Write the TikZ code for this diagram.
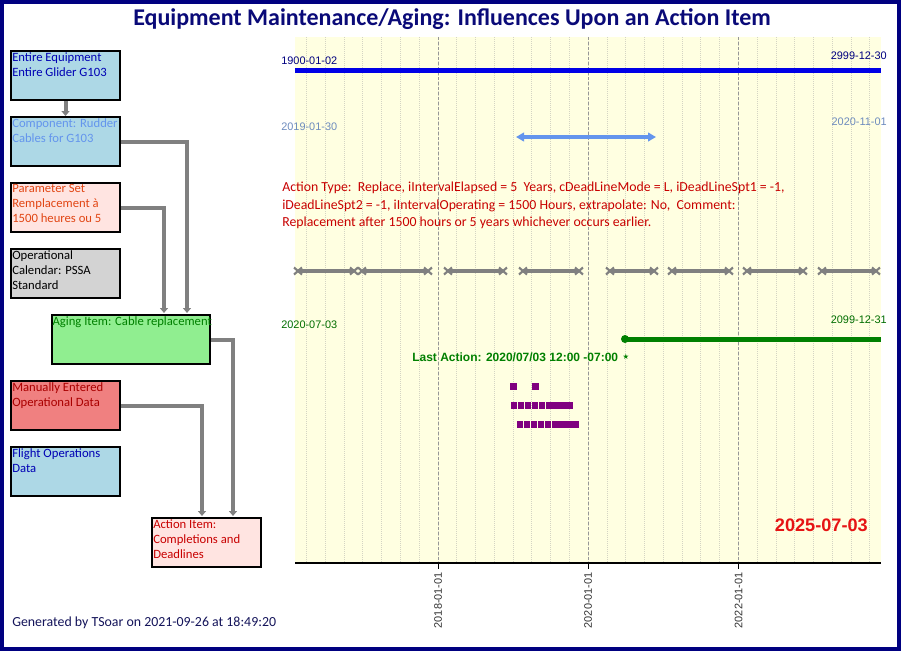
\documentclass[tikz,border=0pt]{standalone}
\usepackage{fontspec}
\setmainfont{Carlito}
\newfontfamily\arialf{Liberation Sans}
\newfontfamily\symf{DejaVu Sans}
\usetikzlibrary{arrows.meta}
\definecolor{navyc}{RGB}{0,0,128}
\definecolor{titlec}{RGB}{10,10,120}
\definecolor{plotbg}{RGB}{255,255,225}
\definecolor{minorc}{RGB}{212,212,195}
\definecolor{majorc}{RGB}{150,150,150}
\definecolor{conngray}{RGB}{128,128,128}
\definecolor{lblue}{RGB}{173,216,230}
\definecolor{mrose}{RGB}{255,228,225}
\definecolor{lgray}{RGB}{211,211,211}
\definecolor{lgreen}{RGB}{144,238,144}
\definecolor{lcoral}{RGB}{240,128,128}
\definecolor{tblue}{RGB}{0,0,180}
\definecolor{tcorn}{RGB}{100,149,237}
\definecolor{torange}{RGB}{225,70,20}
\definecolor{tgreen}{RGB}{0,128,0}
\definecolor{tdred}{RGB}{170,0,0}
\definecolor{tred}{RGB}{200,0,0}
\definecolor{bigred}{RGB}{230,20,20}
\definecolor{lineblue}{RGB}{0,0,230}
\definecolor{steelc}{RGB}{110,140,190}
\definecolor{dgreen}{RGB}{0,110,0}
\definecolor{purplec}{RGB}{128,0,128}
\definecolor{genc}{RGB}{20,20,90}
\begin{document}
\begin{tikzpicture}[x=0.75pt,y=-0.75pt,
  box/.style={draw=black,line width=1.5pt,minimum width=81.75pt,minimum height=36.75pt,inner sep=0pt,anchor=north west},
  boxtxt/.style={anchor=north west,inner sep=0pt,align=left,font=\fontsize{9.5}{11.25}\selectfont},
  conn/.style={draw=conngray,line width=3pt,-{Triangle[length=3.75pt,width=6pt]}},
  datelbl/.style={inner sep=0pt,font=\arialf\fontsize{8.2}{9}\selectfont},
  seg/.style={draw=conngray,line width=3pt},
  xm/.style={draw=conngray,line width=1.6pt},
  minor/.style={draw=minorc,line width=0.75pt,dash pattern=on 0.75pt off 0.75pt},
  major/.style={draw=majorc,line width=0.75pt,dash pattern=on 2.25pt off 1.5pt},
  ticklbl/.style={inner sep=0pt,rotate=90,anchor=east,text=black!80,font=\arialf\fontsize{8.2}{9}\selectfont}
]
\useasboundingbox (0,0) rectangle (901,651);
\fill[white] (0,0) rectangle (901,651);
% plot background and grid
\fill[plotbg] (295,37) rectangle (881,563);
\foreach \k in {-7,...,23} {\draw[minor] ({438+\k*18.78},37) -- ({438+\k*18.78},563);}
\foreach \k in {0,8,16} {\draw[major] ({438+\k*18.78},37) -- ({438+\k*18.78},563);}
% title
\node[font=\bfseries\fontsize{18}{21}\selectfont,text=titlec,inner sep=0pt] (title) at (452,19) {Equipment Maintenance/Aging: Influences Upon an Action Item};
% boxes
\node[box,fill=lblue] (b1) at (10,50) {};
\node[boxtxt,text=tblue] at ([xshift=1.5pt,yshift=-1.8pt]b1.north west) {Entire Equipment\\Entire Glider G103};
\node[box,fill=lblue] (b2) at (10,116) {};
\node[boxtxt,text=tcorn] at ([xshift=1.5pt,yshift=-1.8pt]b2.north west) {Component: Rudder\\Cables for G103};
\node[box,fill=mrose] (b3) at (10,182) {};
\node[boxtxt,text=torange] at ([xshift=1.5pt,yshift=-1.8pt]b3.north west) {Parameter Set\\Remplacement à\\1500 heures ou 5};
\node[box,fill=lgray] (b4) at (10,248) {};
\node[boxtxt,text=black] at ([xshift=1.5pt,yshift=-1.8pt]b4.north west) {Operational\\Calendar: PSSA\\Standard};
\node[box,fill=lgreen,minimum width=118.5pt] (ag) at (51,314) {};
\node[boxtxt,text=tgreen] at ([xshift=1pt,yshift=-1.8pt]ag.north west) {Aging Item: Cable replacement};
\node[box,fill=lcoral] (b6) at (10,380) {};
\node[boxtxt,text=tdred] at ([xshift=1.5pt,yshift=-1.8pt]b6.north west) {Manually Entered\\Operational Data};
\node[box,fill=lblue] (b7) at (10,446) {};
\node[boxtxt,text=tblue] at ([xshift=1.5pt,yshift=-1.8pt]b7.north west) {Flight Operations\\Data};
\node[box,fill=mrose] (b8) at (151,517) {};
\node[boxtxt,text=tred] at ([xshift=1.5pt,yshift=-1.8pt]b8.north west) {Action Item:\\Completions and\\Deadlines};
% connectors
\coordinate (j1) at (187,313);
\coordinate (j2) at (164,313);
\coordinate (j3) at (233,516);
\coordinate (j4) at (202,516);
\draw[conn] (b1.south) -- (b2.north);
\draw[conn] (b2.east) -| (j1);
\draw[conn] (b3.east) -| (j2);
\draw[conn] (ag.east) -| (j3);
\draw[conn] (b6.east) -| (j4);
% timeline 1
\coordinate (l1a) at (295,70); \coordinate (l1b) at (881,70);
\draw[lineblue,line width=3.75pt] (l1a) -- (l1b);
\node[datelbl,text=navyc,anchor=west] (d1) at (281,61) {1900-01-02};
\node[datelbl,text=navyc,anchor=east] (d2) at (887,56) {2999-12-30};
% timeline 2
\coordinate (l2a) at (516,137); \coordinate (l2b) at (656,137);
\draw[tcorn,line width=3pt,{Triangle[length=6pt,width=6.5pt]}-{Triangle[length=6pt,width=6.5pt]}] (l2a) -- (l2b);
\node[datelbl,text=steelc,anchor=west] (d3) at (281,127) {2019-01-30};
\node[datelbl,text=steelc,anchor=east] (d4) at (887,122) {2020-11-01};
% action text
\node[anchor=north west,inner sep=0pt,align=left,text=tred,font=\fontsize{10.35}{13.1}\selectfont] (act) at (282,182) {Action Type:\ \ Replace, iIntervalElapsed = 5\ \ Years, cDeadLineMode = L, iDeadLineSpt1 = -1,\\iDeadLineSpt2 = -1, iIntervalOperating = 1500 Hours, extrapolate: No,\ \ Comment:\\Replacement after 1500 hours or 5 years whichever occurs earlier.};
% operating segments
\foreach \a/\b in {298/354,362/428,448/503,523/579,610/654,672/729,747/803,822/876} {
  \draw[seg] (\a,271) -- (\b,271);
  \draw[xm] (\a-4,267.5) -- (\a+4,274.5) (\a-4,274.5) -- (\a+4,267.5);
  \draw[xm] (\b-4,267.5) -- (\b+4,274.5) (\b-4,274.5) -- (\b+4,267.5);
}
% timeline 3 (green)
\coordinate (l3a) at (625,339); \coordinate (l3b) at (881,339);
\draw[tgreen,line width=3.75pt] (l3a) -- (l3b);
\fill[tgreen] (l3a) circle (4);
\node[datelbl,text=dgreen,anchor=west] (d5) at (281,325) {2020-07-03};
\node[datelbl,text=dgreen,anchor=east] (d6) at (887,320) {2099-12-31};
\node[anchor=west,inner sep=0pt,text=tgreen,font=\arialf\bfseries\fontsize{9}{10}\selectfont] (last) at (412,357) {Last Action: 2020/07/03 12:00 -07:00};
\node[inner sep=0pt,text=tgreen,font=\symf\fontsize{5.5}{6}\selectfont] (star) at (626,356.5) {★};
% purple marks
\fill[purplec] (510,383) rectangle (516.5,389.5);
\fill[purplec] (532,383) rectangle (538.5,389.5);
\foreach \i in {0,...,8} {\fill[purplec] ({511+\i*6.9},402) rectangle ({511+\i*6.9+6.4},408.5);}
\foreach \i in {0,...,8} {\fill[purplec] ({517+\i*6.9},421) rectangle ({517+\i*6.9+6.4},427.5);}
% current date
\node[anchor=east,inner sep=0pt,text=bigred,font=\arialf\bfseries\fontsize{13.6}{15}\selectfont] (today) at (868,525) {2025-07-03};
% axis
\coordinate (axa) at (295,563); \coordinate (axb) at (881,563);
\draw[black,line width=1.1pt] (axa) -- (axb);
\foreach \x/\t in {438/2018-01-01,588.2/2020-01-01,738.5/2022-01-01} {
  \draw[black,line width=0.75pt] (\x,563) -- (\x,569);
  \node[ticklbl] at (\x,572) {\t};
}
% footer
\node[anchor=west,inner sep=0pt,text=genc,font=\fontsize{10.4}{12}\selectfont] (gen) at (12,623) {Generated by TSoar on 2021-09-26 at 18:49:20};
% frame
\draw[navyc,line width=3pt] (2,2) rectangle (899,649);
\end{tikzpicture}
\end{document}
